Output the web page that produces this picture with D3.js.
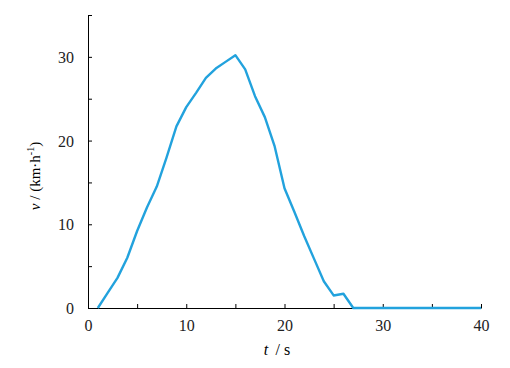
<!DOCTYPE html>
<html lang="en">
<head>
  <meta charset="UTF-8">
  <title>v-t</title>
  <style>
    body { margin: 0; background: #fff; }
    svg { display: block; font-family: "Liberation Serif", "Times New Roman", serif; }
    .axis path, .axis line { stroke: #000; stroke-width: 1; }
    .axis text { font-size: 16px; fill: #222; font-family: "Liberation Serif", serif; }
  </style>
</head>
<body>
  <svg></svg>
  <script src="https://d3js.org/d3.v7.min.js"></script>
  <script>
    var times = [1, 2, 3, 4, 5, 6, 7, 8, 9, 10, 11, 12, 13, 14, 15, 16, 17, 18, 19, 20,
                 21, 22, 23, 24, 25, 26, 27, 28, 29, 30, 31, 32, 33, 34, 35, 36, 37, 38, 39, 40];
    var speeds = [0, 1.8, 3.6, 6.0, 9.2, 12.0, 14.5, 18.0, 21.7, 24.0, 25.7, 27.5, 28.6, 29.4, 30.2, 28.5, 25.3, 22.8, 19.3, 14.3,
                  11.5, 8.6, 5.9, 3.2, 1.5, 1.7, 0, 0, 0, 0, 0, 0, 0, 0, 0, 0, 0, 0, 0, 0];
    var xTicks = [0, 5, 10, 15, 20, 25, 30, 35, 40];
    var yTicks = [0, 5, 10, 15, 20, 25, 30, 35];

    var width = 510;
    var height = 368;
    var mLeft = 88, mRight = 481, mTop = 15, mBottom = 308;

    var svg = d3.select("svg")
        .attr("width", width)
        .attr("height", height);

    var x = d3.scaleLinear().domain([0, 40]).range([mLeft, mRight]);
    var y = d3.scaleLinear().domain([0, 35]).range([mBottom, mTop]);

    svg.append("g")
        .attr("class", "axis")
        .attr("transform", "translate(0," + mBottom + ")")
        .call(d3.axisBottom(x).tickValues(xTicks).tickSizeInner(-4).tickSizeOuter(0)
          .tickFormat(d => d % 10 === 0 ? d : ""))
        .call(g => g.selectAll("text").attr("y", 12).attr("dy", "0.71em"));

    svg.append("g")
        .attr("class", "axis")
        .attr("transform", "translate(" + mLeft + ",0)")
        .call(d3.axisLeft(y).tickValues(yTicks).tickSizeInner(-4).tickSizeOuter(0)
          .tickFormat(d => d % 10 === 0 ? d : ""))
        .call(g => g.selectAll("text").attr("x", -14).attr("dy", "0.35em"));

    var line = d3.line()
        .x((d, i) => x(times[i]))
        .y(d => y(d));

    svg.append("path")
        .datum(speeds)
        .attr("d", line)
        .attr("fill", "none")
        .attr("stroke", "#22a2dd")
        .attr("stroke-width", 2.4)
        .attr("stroke-linejoin", "round");

    // axis titles
    var xt = svg.append("text")
        .attr("x", 277)
        .attr("y", 355)
        .attr("text-anchor", "middle")
        .attr("font-size", 16);
    xt.append("tspan").attr("font-style", "italic").text("t");
    xt.append("tspan").text("\u2009 / s");

    var yt = svg.append("text")
        .attr("transform", "translate(40,176) rotate(-90)")
        .attr("text-anchor", "middle")
        .attr("font-size", 15);
    yt.append("tspan").attr("font-style", "italic").text("v");
    yt.append("tspan").text(" /  (km\u00b7h");
    yt.append("tspan").attr("font-size", 10).attr("dy", -6).text("-1");
    yt.append("tspan").attr("dy", 6).text(")");
  </script>
</body>
</html>
